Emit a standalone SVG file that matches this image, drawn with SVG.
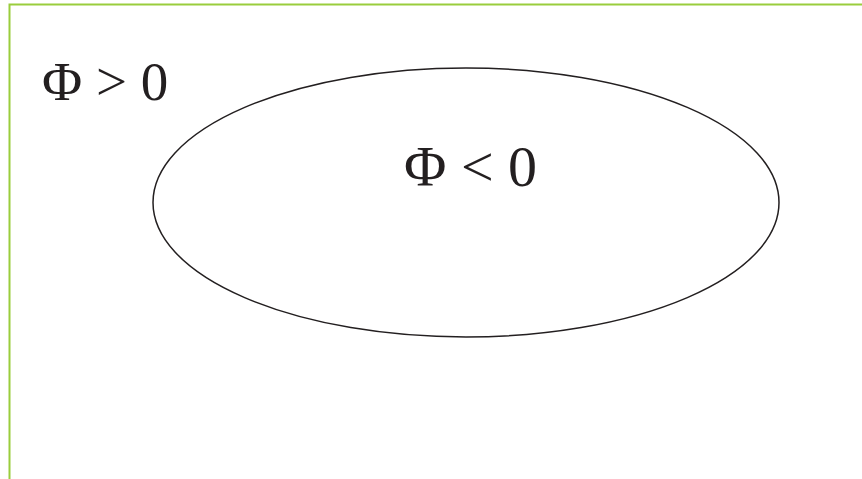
<svg xmlns="http://www.w3.org/2000/svg" width="862" height="479" viewBox="0 0 862 479">
<style>
.t{font-family:"Liberation Serif","Times New Roman",serif;fill:#231f20}
</style>
<rect width="862" height="479" fill="#fff"/>
<g id="frame"><path d="M9.5,479 V4.5 H862" fill="none" stroke="#9acd3c" stroke-width="2"/></g>
<g id="region-outside"><text class="t" x="42" y="100" font-size="55">Φ &gt; 0</text></g>
<g id="region-inside">
<ellipse cx="466" cy="202.5" rx="313" ry="134.5" fill="none" stroke="#231f20" stroke-width="1.5"/>
<text class="t" x="404" y="186" font-size="58">Φ &lt; 0</text>
</g>
<g id="connectors"/>
</svg>
